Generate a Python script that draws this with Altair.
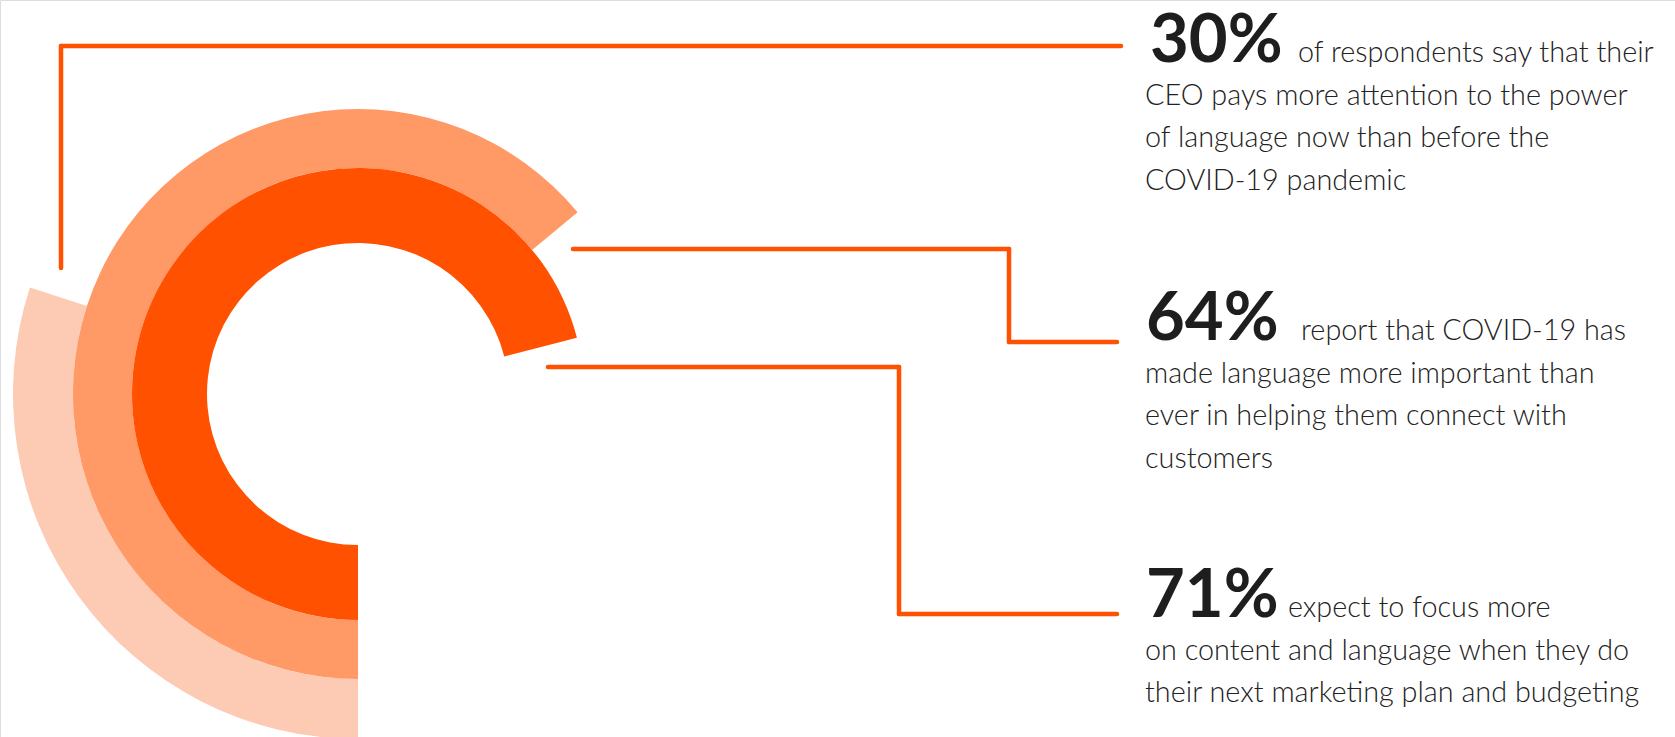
import math
import altair as alt
import pandas as pd

# ---- data ----
values = [30, 64, 71]
first_lines = [
    "of respondents say that their",
    "report that COVID-19 has",
    "expect to focus more",
]
rest_lines = [
    ["CEO pays more attention to the power", "of language now than before the", "COVID-19 pandemic"],
    ["made language more important than", "ever in helping them connect with", "customers"],
    ["on content and language when they do", "their next marketing plan and budgeting"],
]

# ---- style / layout ----
W, H = 1675, 737
CX, CY = 358, 394
ring_colors = ["#FDCAB4", "#FF9966", "#FF5100"]
ring_r_inner = [285, 226, 151]
ring_r_outer = [345, 285, 226]
LINE_COLOR = "#FF5100"
TEXT_COLOR = "#222222"
NUM_FONT = "Lato"
BODY_FONT = "Lato"
NUM_SIZE = 67
BODY_SIZE = 28.8
LINE_H = 42.5
num_x = [1150, 1146, 1146]
inline_x = [1298, 1301, 1288]
body_x = 1145
baselines = [62, 340, 617]

theta_scale = alt.Scale(domain=[0, 100], range=[math.pi, 3 * math.pi])

layers = []

# arcs
for i, v in enumerate(values):
    df = pd.DataFrame({"pct": [v]})
    arc = alt.Chart(df).mark_arc(color=ring_colors[i]).encode(
        theta=alt.Theta("pct:Q", scale=theta_scale, stack=False),
        theta2=alt.datum(0),
        radius=alt.value(ring_r_outer[i]),
        radius2=alt.value(ring_r_inner[i]),
        x=alt.value(CX),
        y=alt.value(CY),
    )
    layers.append(arc)

# connector lines (decorative)
segments = [
    # 30% connector
    (61, 61, 268, 46),
    (61, 1121, 46, 46),
    # 64% connector
    (573, 1009, 249, 249),
    (1009, 1009, 249, 342),
    (1009, 1117, 342, 342),
    # 71% connector
    (548, 899, 367, 367),
    (899, 899, 367, 614),
    (899, 1117, 614, 614),
]
seg_df = pd.DataFrame({"k": [0]})
for (x1, x2, y1, y2) in segments:
    layers.append(
        alt.Chart(seg_df).mark_rule(color=LINE_COLOR, strokeWidth=4.5, strokeCap="round").encode(
            x=alt.value(x1), x2=alt.value(x2), y=alt.value(y1), y2=alt.value(y2)
        )
    )

# texts
for i, v in enumerate(values):
    num_df = pd.DataFrame({"t": [f"{v}%"]})
    layers.append(
        alt.Chart(num_df).mark_text(
            align="left", baseline="alphabetic", font=NUM_FONT, fontWeight="bold",
            fontSize=NUM_SIZE, color="#1E1E1E"
        ).encode(text="t:N", x=alt.value(num_x[i]), y=alt.value(baselines[i]))
    )
    first_df = pd.DataFrame({"t": [first_lines[i]]})
    layers.append(
        alt.Chart(first_df).mark_text(
            align="left", baseline="alphabetic", font=BODY_FONT, fontWeight=300,
            fontSize=BODY_SIZE, color=TEXT_COLOR
        ).encode(text="t:N", x=alt.value(inline_x[i]), y=alt.value(baselines[i]))
    )
    rest_df = pd.DataFrame({"t": ["\n".join(rest_lines[i])]})
    layers.append(
        alt.Chart(rest_df).mark_text(
            align="left", baseline="alphabetic", font=BODY_FONT, fontWeight=300,
            fontSize=BODY_SIZE, color=TEXT_COLOR, lineBreak="\n", lineHeight=LINE_H
        ).encode(text="t:N", x=alt.value(body_x), y=alt.value(baselines[i] + LINE_H))
    )

chart = alt.layer(*layers).properties(
    width=W, height=H, padding=0, autosize=alt.AutoSizeParams(type="none")
).configure_view(stroke=None).configure(background="white")

chart.save("out.html", embed_options={"renderer": "svg", "actions": False})
